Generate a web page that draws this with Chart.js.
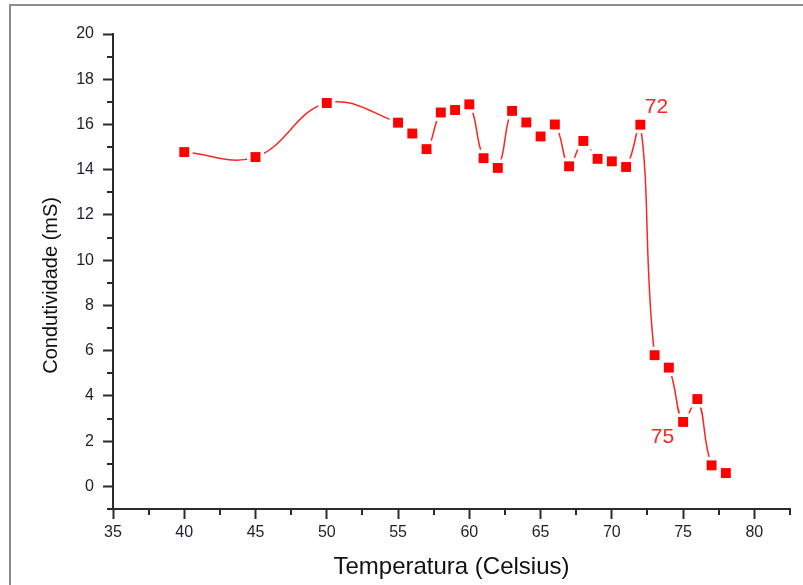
<!DOCTYPE html>
<html><head><meta charset="utf-8">
<script src="https://cdn.jsdelivr.net/npm/chart.js@4.4.0/dist/chart.umd.min.js"></script>
<style>
html,body{margin:0;padding:0;background:#fff;overflow:hidden}
#wrap{position:relative;width:803px;height:585px}
#frame{position:absolute;left:9px;top:4px;width:800px;height:600px;border-left:2px solid #8c8c8c;border-top:2px solid #8c8c8c}
canvas{position:absolute;left:0;top:0}
</style></head><body>
<div id="wrap"><div id="frame"></div><canvas id="c" width="803" height="585"></canvas></div>
<script>
// ---- data ----
const temperatures = [40,45,50,55,56,57,58,59,60,61,62,63,64,65,66,67,68,69,70,71,72,73,74,75,76,77,78];
const conductivity = [14.78,14.56,16.95,16.08,15.6,14.91,16.53,16.64,16.89,14.51,14.08,16.6,16.09,15.47,16.0,14.15,15.27,14.48,14.37,14.12,15.99,5.8,5.25,2.85,3.86,0.93,0.59];
const xMajorTicks = [35,40,45,50,55,60,65,70,75,80];
const xMinorTicks = [37.5,42.5,47.5,52.5,57.5,62.5,67.5,72.5,77.5,82.5];
const yMajorTicks = [0,2,4,6,8,10,12,14,16,18,20];
const yMinorTicks = [-1,1,3,5,7,9,11,13,15,17,19];
const noteLabels = ['72','75'];
const noteX = [73.13,73.55];
const noteY = [16.77,2.17];

const FONT = "'Liberation Sans', Arial, sans-serif";
const AXIS = '#2b2b2b';
const RED = '#ff2424';

const points = temperatures.map((t,i)=>({x:t,y:conductivity[i]}));

const minorTicksPlugin = {
  id:'minorTicks',
  afterDraw(chart){
    const ctx = chart.ctx, xs = chart.scales.x, ys = chart.scales.y, a = chart.chartArea;
    ctx.save();
    ctx.strokeStyle = AXIS; ctx.lineWidth = 2;
    ctx.beginPath();
    xMinorTicks.forEach(v=>{const p = Math.round(xs.getPixelForValue(v)); ctx.moveTo(p,a.bottom); ctx.lineTo(p,a.bottom+6);});
    yMinorTicks.forEach(v=>{const p = Math.round(ys.getPixelForValue(v)); ctx.moveTo(a.left,p); ctx.lineTo(a.left-6,p);});
    ctx.stroke();
    ctx.fillStyle = 'rgb(255,35,35)';
    ctx.font = '21px ' + FONT;
    ctx.textAlign = 'center'; ctx.textBaseline = 'middle';
    noteLabels.forEach((s,i)=>ctx.fillText(s, xs.getPixelForValue(noteX[i]), ys.getPixelForValue(noteY[i])));
    ctx.restore();
  }
};

new Chart(document.getElementById('c'), {
  type:'scatter',
  data:{datasets:[
    {data:points, showLine:true, borderColor:RED, borderWidth:1.5, tension:0.4, pointRadius:0, order:3},
    {data:points, showLine:false, pointStyle:'rect', pointRadius:12, pointBackgroundColor:'#fff', pointBorderColor:'#fff', pointBorderWidth:0, order:2},
    {data:points, showLine:false, pointStyle:'rect', pointRadius:7, pointBackgroundColor:'#ff0000', pointBorderColor:'#ff0000', pointBorderWidth:0, order:1}
  ]},
  options:{
    responsive:false, animation:false, events:[], devicePixelRatio:1,
    layout:{padding:{top:34,right:13,left:0,bottom:0}},
    plugins:{legend:{display:false}, tooltip:{enabled:false}},
    scales:{
      x:{type:'linear', min:35, max:82.5,
        afterBuildTicks(s){s.ticks = xMajorTicks.map(v=>({value:v}));},
        afterFit(s){s.height = 76;},
        grid:{drawOnChartArea:false, drawTicks:true, tickLength:10, tickWidth:2, tickColor:AXIS},
        border:{display:true, color:AXIS, width:2},
        ticks:{color:'#1e1e2e', font:{family:FONT, size:16}, padding:4, maxRotation:0, autoSkip:false},
        title:{display:true, text:'Temperatura (Celsius)', color:'#111', font:{family:FONT, size:24}, padding:{top:0,bottom:3}}
      },
      y:{type:'linear', min:-1, max:20,
        afterBuildTicks(s){s.ticks = yMajorTicks.map(v=>({value:v}));},
        afterFit(s){s.width = 113;},
        grid:{drawOnChartArea:false, drawTicks:true, tickLength:10, tickWidth:2, tickColor:AXIS},
        border:{display:true, color:AXIS, width:2},
        ticks:{color:'#1e1e2e', font:{family:FONT, size:16}, padding:9, autoSkip:false},
        title:{display:true, text:'Condutividade (mS)     ', color:'#111', font:{family:FONT, size:20}, padding:{top:39,bottom:0}}
      }
    }
  },
  plugins:[minorTicksPlugin]
});
</script>
</body></html>
